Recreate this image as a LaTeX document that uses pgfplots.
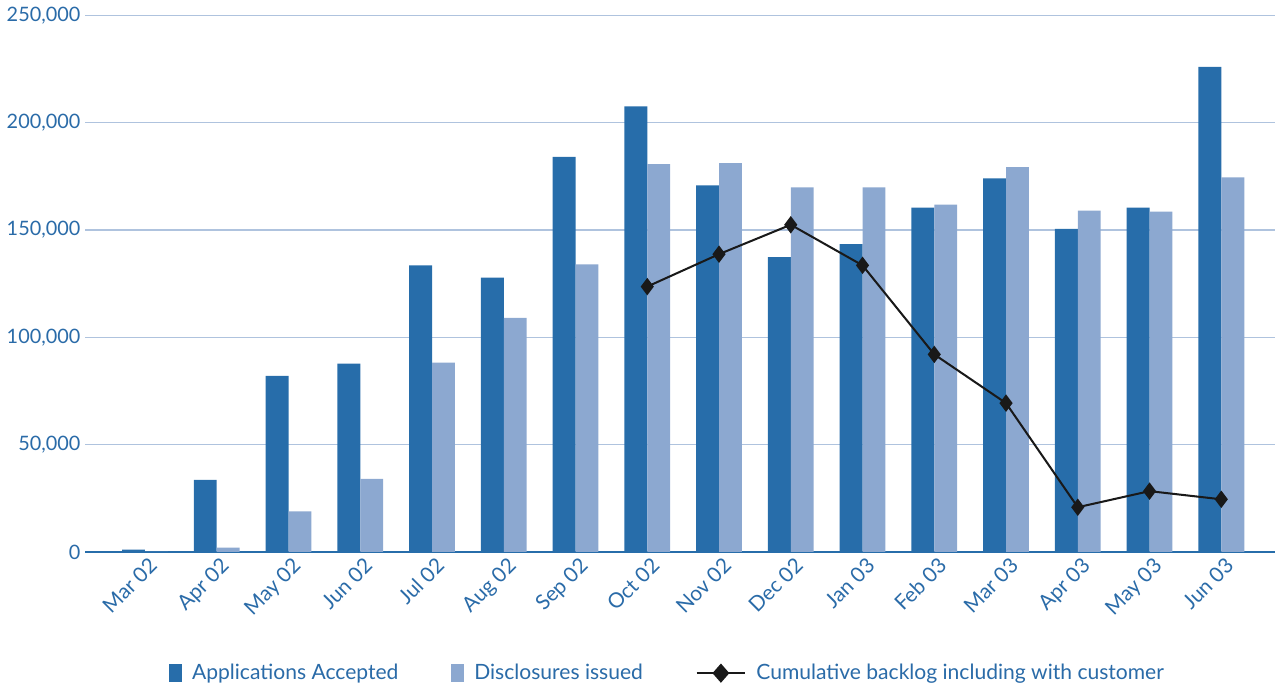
\documentclass[border=0pt]{standalone}
\usepackage{pgfplots}
\pgfplotsset{compat=1.18}
\usepackage{fontspec}
\setmainfont{Lato}
\definecolor{darkb}{HTML}{276DAA}
\definecolor{lightb}{HTML}{8CA8D0}
\definecolor{txtb}{HTML}{2A6BA8}
\definecolor{gridb}{HTML}{AFC3DE}
\begin{document}
\begin{tikzpicture}
\begin{axis}[
  scale only axis,
  width=587.5pt, height=265pt,
  xmin=-0.83, xmax=15.75,
  ymin=0, ymax=250000,
  xtick={0,...,15},
  xticklabels={Mar 02,Apr 02,May 02,Jun 02,Jul 02,Aug 02,Sep 02,Oct 02,Nov 02,Dec 02,Jan 03,Feb 03,Mar 03,Apr 03,May 03,Jun 03},
  ytick={0,50000,...,250000},
  scaled y ticks=false,
  /pgf/number format/assume math mode=true,
  yticklabel style={/pgf/number format/fixed,/pgf/number format/1000 sep={,}, font=\fontsize{9.8}{12}\selectfont, text=txtb, xshift=1pt},
  xticklabel style={rotate=45, anchor=north east, font=\fontsize{10.3}{12}\selectfont, text=txtb, xshift=3pt, yshift=1pt},
  tick style={draw=none},
  ymajorgrids,
  grid style={gridb, line width=0.6pt},
  axis y line*=left,
  y axis line style={draw=none},
  axis x line*=bottom,
  x axis line style={draw=darkb, line width=0.9pt},
  legend style={at={(0.49,-0.226)}, anchor=center, draw=none, legend columns=3, font=\fontsize{10.4}{12}\selectfont, text=txtb,
    /tikz/every even column/.append style={column sep=24pt},
    /tikz/every odd column/.append style={column sep=3pt}},
  legend cell align=left,
]
\addplot[ybar, bar width=0.32, bar shift=-0.16, fill=darkb, draw=none,
  legend image code/.code={\fill[darkb] (0pt,-4.5pt) rectangle (6.5pt,4.5pt);}] coordinates {
(0,1000) (1,33500) (2,82000) (3,87700) (4,133500) (5,127800) (6,184000) (7,207500)
(8,170800) (9,137300) (10,143400) (11,160400) (12,174000) (13,150500) (14,160400) (15,226000)};
\addlegendentry{Applications Accepted}
\addplot[ybar, bar width=0.32, bar shift=0.16, fill=lightb, draw=none,
  legend image code/.code={\fill[lightb] (0pt,-4.5pt) rectangle (6.5pt,4.5pt);}] coordinates {
(0,0) (1,2000) (2,18900) (3,34000) (4,88200) (5,109000) (6,134000) (7,180700)
(8,181100) (9,169800) (10,169800) (11,161800) (12,179200) (13,159000) (14,158500) (15,174500)};
\addlegendentry{Disclosures issued}
\addplot[black!90, line width=1pt, mark=diamond*, mark size=3.5pt, mark options={fill=black!90},
  legend image code/.code={\draw[black!90, line width=1pt] (0pt,0pt) -- (24pt,0pt); \fill[black!90] (12pt,0pt) +(-3.5pt,0) -- +(0,4pt) -- +(3.5pt,0) -- +(0,-4pt) -- cycle;}] coordinates {
(7,123600) (8,138700) (9,152400) (10,133500) (11,92000) (12,69300) (13,20800) (14,28300) (15,24500)};
\addlegendentry{Cumulative backlog including with customer}
\end{axis}
\end{tikzpicture}
\end{document}
